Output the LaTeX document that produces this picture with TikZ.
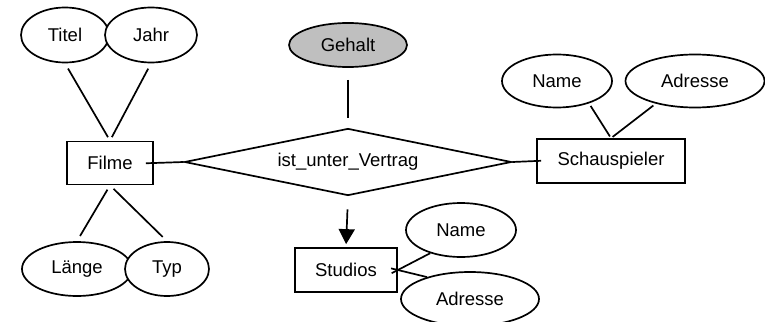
\documentclass[tikz,border=0pt]{standalone}
\usepackage{xcolor}
\usepackage{fontspec}
\setmainfont{Liberation Sans}
\usetikzlibrary{shapes.geometric,arrows.meta}

\begin{document}
\begin{tikzpicture}[x=1pt,y=-1pt,line width=1.7pt,
                font=\fontsize{18.5}{20}\selectfont,
                attr/.style={draw,ellipse,fill=white,inner sep=0pt},
                entity/.style={draw,rectangle,inner sep=0pt},
                rel/.style={draw,diamond,aspect=4.9,inner sep=0pt}]
                \useasboundingbox (0,0) rectangle (765,321);

                \node[attr,minimum width=88,minimum height=55] (titel) at (65,35) {Titel};
                \node[attr,minimum width=92,minimum height=55] (jahr) at (151,35) {Jahr};

                \node[entity,minimum width=86,minimum height=43] (filme) at (110,163) {Filme};

                \node[attr,minimum width=110,minimum height=54] (laenge) at (77,269) {Länge};
                \node[attr,minimum width=84,minimum height=54] (typ) at (167,269) {Typ};

                \node[attr,fill=gray!50,minimum width=118,minimum height=44] (gehalt) at (348,45) {Gehalt};
                \node[rel,minimum width=327,minimum height=67] (vertrag) at (348,162) {ist\_unter\_Vertrag};

                \node[entity,minimum width=148,minimum height=44] (schauspieler) at (611,161) {Schauspieler};
                \node[attr,minimum width=110,minimum height=53] (sname) at (557,81) {Name};
                \node[attr,minimum width=139,minimum height=53] (sadresse) at (695,81) {Adresse};

                \node[entity,minimum width=102,minimum height=44] (studios) at (346,270) {Studios};
                \node[attr,minimum width=110,minimum height=54] (stname) at (461,230) {Name};
                \node[attr,minimum width=138,minimum height=54] (stadresse) at (470,299) {Adresse};

                \draw[shorten <=6pt,shorten >=4pt] (titel.south) -- (filme.north);
                \draw[shorten <=6pt,shorten >=4pt] (jahr.south) -- (filme.north);

                \draw[shorten <=5pt,shorten >=6pt] (filme.south) -- (laenge.north);
                \draw[shorten <=5pt,shorten >=6pt] (filme.south) -- (typ.north);

                \draw[shorten <=-8pt] (filme.east) -- (vertrag.west);
                \draw[shorten <=12pt,shorten >=10pt] (gehalt.south) -- (vertrag.north);
                \draw[shorten >=-5pt] (vertrag.east) -- (schauspieler.west);

                \draw[shorten <=3pt,shorten >=2pt] (sname.-35) -- (schauspieler.north);
                \draw[shorten <=3pt,shorten >=2pt] (sadresse.-150) -- (schauspieler.north);

                \draw[-{Triangle[width=16pt,length=15pt]},shorten <=13pt,shorten >=3pt] (vertrag.south) -- (studios.north);

                \draw[shorten <=-7pt] (studios.east) -- (stname.-143);
                \draw[shorten <=-7pt] (studios.east) -- (stadresse.153);
            \end{tikzpicture}
\end{document}
